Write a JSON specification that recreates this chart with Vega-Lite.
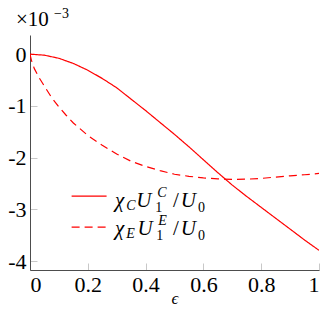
{
  "$schema": "https://vega.github.io/schema/vega-lite/v6.json",
  "width": 289,
  "height": 235,
  "autosize": "none",
  "padding": {"left": 30, "top": 35, "right": 14, "bottom": 39},
  "background": "white",
  "config": {
    "view": {"stroke": null},
    "text": {"font": "Liberation Serif", "color": "black"},
    "axis": {
      "grid": false,
      "domainColor": "#4d4d4d",
      "domainWidth": 1,
      "tickColor": "#c8c8c8",
      "tickSize": -7,
      "tickWidth": 1,
      "labelFont": "Liberation Serif",
      "labelFontSize": 22,
      "labelColor": "black",
      "titleFont": "Liberation Serif",
      "titleColor": "black"
    }
  },
  "datasets": {
    "one": [{}],
    "curves": [
      {"x": 0, "y": 0, "s": "C"},
      {"x": 0.05, "y": -0.02, "s": "C"},
      {"x": 0.1, "y": -0.08, "s": "C"},
      {"x": 0.15, "y": -0.18, "s": "C"},
      {"x": 0.2, "y": -0.31, "s": "C"},
      {"x": 0.25, "y": -0.47, "s": "C"},
      {"x": 0.3, "y": -0.65, "s": "C"},
      {"x": 0.35, "y": -0.87, "s": "C"},
      {"x": 0.4, "y": -1.09, "s": "C"},
      {"x": 0.45, "y": -1.32, "s": "C"},
      {"x": 0.5, "y": -1.55, "s": "C"},
      {"x": 0.55, "y": -1.79, "s": "C"},
      {"x": 0.6, "y": -2.04, "s": "C"},
      {"x": 0.65, "y": -2.29, "s": "C"},
      {"x": 0.7, "y": -2.53, "s": "C"},
      {"x": 0.75, "y": -2.75, "s": "C"},
      {"x": 0.8, "y": -2.96, "s": "C"},
      {"x": 0.85, "y": -3.17, "s": "C"},
      {"x": 0.9, "y": -3.38, "s": "C"},
      {"x": 0.95, "y": -3.59, "s": "C"},
      {"x": 1.0, "y": -3.79, "s": "C"},
      {"x": 0, "y": 0, "s": "E"},
      {"x": 0.005, "y": -0.12, "s": "E"},
      {"x": 0.015, "y": -0.28, "s": "E"},
      {"x": 0.03, "y": -0.44, "s": "E"},
      {"x": 0.05, "y": -0.62, "s": "E"},
      {"x": 0.075, "y": -0.84, "s": "E"},
      {"x": 0.1, "y": -1.02, "s": "E"},
      {"x": 0.125, "y": -1.18, "s": "E"},
      {"x": 0.15, "y": -1.33, "s": "E"},
      {"x": 0.2, "y": -1.57, "s": "E"},
      {"x": 0.25, "y": -1.76, "s": "E"},
      {"x": 0.3, "y": -1.93, "s": "E"},
      {"x": 0.35, "y": -2.07, "s": "E"},
      {"x": 0.4, "y": -2.17, "s": "E"},
      {"x": 0.45, "y": -2.25, "s": "E"},
      {"x": 0.5, "y": -2.32, "s": "E"},
      {"x": 0.55, "y": -2.36, "s": "E"},
      {"x": 0.6, "y": -2.39, "s": "E"},
      {"x": 0.65, "y": -2.41, "s": "E"},
      {"x": 0.7, "y": -2.42, "s": "E"},
      {"x": 0.75, "y": -2.415, "s": "E"},
      {"x": 0.8, "y": -2.4, "s": "E"},
      {"x": 0.85, "y": -2.375, "s": "E"},
      {"x": 0.9, "y": -2.35, "s": "E"},
      {"x": 0.95, "y": -2.33, "s": "E"},
      {"x": 1.0, "y": -2.305, "s": "E"}
    ]
  },
  "layer": [
    {
      "data": {"name": "curves"},
      "mark": {"type": "line", "color": "#ff0000", "strokeWidth": 1.2, "clip": true},
      "encoding": {
        "x": {"field": "x", "type": "quantitative",
              "scale": {"domain": [0, 1], "nice": false},
              "axis": {"values": [0, 0.2, 0.4, 0.6, 0.8, 1], "labelPadding": 11, "title": "ϵ",
                       "labelExpr": "datum.value == 0 ? '0' : datum.value == 1 ? '1' : format(datum.value, '.1f')",
                       "titleFontStyle": "italic", "titleFontWeight": "normal", "titleFontSize": 17, "titlePadding": -5}},
        "y": {"field": "y", "type": "quantitative",
              "scale": {"domain": [-4.17, 0.37], "nice": false, "zero": false},
              "axis": {"values": [0, -1, -2, -3, -4], "labelPadding": 11, "title": null,
                       "labelExpr": "datum.value == 0 ? '0' : '-' + abs(datum.value)"}},
        "strokeDash": {"field": "s", "type": "nominal",
                       "scale": {"domain": ["C", "E"], "range": [[1, 0], [8, 5]]}, "legend": null}
      }
    },
    {
      "data": {"name": "one"},
      "mark": {"type": "rule", "color": "#ff0000", "strokeWidth": 1.2},
      "encoding": {"x": {"datum": 0.144}, "x2": {"datum": 0.265}, "y": {"datum": -2.744}}
    },
    {
      "data": {"name": "one"},
      "mark": {"type": "rule", "color": "#ff0000", "strokeWidth": 1.2, "strokeDash": [8, 5]},
      "encoding": {"x": {"datum": 0.144}, "x2": {"datum": 0.265}, "y": {"datum": -3.343}}
    },
    {"data": {"name": "one"}, "mark": {"type": "text", "text": "χ", "fontStyle": "italic", "fontSize": 21, "align": "left", "baseline": "alphabetic"},
     "encoding": {"x": {"datum": 0.294}, "y": {"datum": -2.957}}},
    {"data": {"name": "one"}, "mark": {"type": "text", "text": "C", "fontStyle": "italic", "fontSize": 14, "align": "left", "baseline": "alphabetic", "dy": 3},
     "encoding": {"x": {"datum": 0.333}, "y": {"datum": -2.957}}},
    {"data": {"name": "one"}, "mark": {"type": "text", "text": "U", "fontStyle": "italic", "fontSize": 21, "align": "left", "baseline": "alphabetic"},
     "encoding": {"x": {"datum": 0.368}, "y": {"datum": -2.957}}},
    {"data": {"name": "one"}, "mark": {"type": "text", "text": "C", "fontStyle": "italic", "fontSize": 14, "align": "left", "baseline": "alphabetic", "dy": -10},
     "encoding": {"x": {"datum": 0.44}, "y": {"datum": -2.957}}},
    {"data": {"name": "one"}, "mark": {"type": "text", "text": "1", "fontSize": 14, "align": "left", "baseline": "alphabetic", "dy": 5},
     "encoding": {"x": {"datum": 0.433}, "y": {"datum": -2.957}}},
    {"data": {"name": "one"}, "mark": {"type": "text", "text": "/", "fontSize": 21, "align": "left", "baseline": "alphabetic"},
     "encoding": {"x": {"datum": 0.495}, "y": {"datum": -2.957}}},
    {"data": {"name": "one"}, "mark": {"type": "text", "text": "U", "fontStyle": "italic", "fontSize": 21, "align": "left", "baseline": "alphabetic"},
     "encoding": {"x": {"datum": 0.522}, "y": {"datum": -2.957}}},
    {"data": {"name": "one"}, "mark": {"type": "text", "text": "0", "fontSize": 14, "align": "left", "baseline": "alphabetic", "dy": 5},
     "encoding": {"x": {"datum": 0.581}, "y": {"datum": -2.957}}},
    {"data": {"name": "one"}, "mark": {"type": "text", "text": "χ", "fontStyle": "italic", "fontSize": 21, "align": "left", "baseline": "alphabetic"},
     "encoding": {"x": {"datum": 0.294}, "y": {"datum": -3.498}}},
    {"data": {"name": "one"}, "mark": {"type": "text", "text": "E", "fontStyle": "italic", "fontSize": 14, "align": "left", "baseline": "alphabetic", "dy": 3},
     "encoding": {"x": {"datum": 0.333}, "y": {"datum": -3.498}}},
    {"data": {"name": "one"}, "mark": {"type": "text", "text": "U", "fontStyle": "italic", "fontSize": 21, "align": "left", "baseline": "alphabetic"},
     "encoding": {"x": {"datum": 0.372}, "y": {"datum": -3.498}}},
    {"data": {"name": "one"}, "mark": {"type": "text", "text": "E", "fontStyle": "italic", "fontSize": 14, "align": "left", "baseline": "alphabetic", "dy": -10},
     "encoding": {"x": {"datum": 0.444}, "y": {"datum": -3.498}}},
    {"data": {"name": "one"}, "mark": {"type": "text", "text": "1", "fontSize": 14, "align": "left", "baseline": "alphabetic", "dy": 5},
     "encoding": {"x": {"datum": 0.437}, "y": {"datum": -3.498}}},
    {"data": {"name": "one"}, "mark": {"type": "text", "text": "/", "fontSize": 21, "align": "left", "baseline": "alphabetic"},
     "encoding": {"x": {"datum": 0.495}, "y": {"datum": -3.498}}},
    {"data": {"name": "one"}, "mark": {"type": "text", "text": "U", "fontStyle": "italic", "fontSize": 21, "align": "left", "baseline": "alphabetic"},
     "encoding": {"x": {"datum": 0.522}, "y": {"datum": -3.498}}},
    {"data": {"name": "one"}, "mark": {"type": "text", "text": "0", "fontSize": 14, "align": "left", "baseline": "alphabetic", "dy": 5},
     "encoding": {"x": {"datum": 0.581}, "y": {"datum": -3.498}}},
    {"data": {"name": "one"}, "mark": {"type": "text", "text": "×10", "fontSize": 21, "align": "left", "baseline": "alphabetic", "dx": -14, "dy": -9},
     "encoding": {"x": {"datum": 0}, "y": {"datum": 0.37}}},
    {"data": {"name": "one"}, "mark": {"type": "text", "text": "−3", "fontSize": 14, "align": "left", "baseline": "alphabetic", "dx": 24, "dy": -17},
     "encoding": {"x": {"datum": 0}, "y": {"datum": 0.37}}}
  ]
}
